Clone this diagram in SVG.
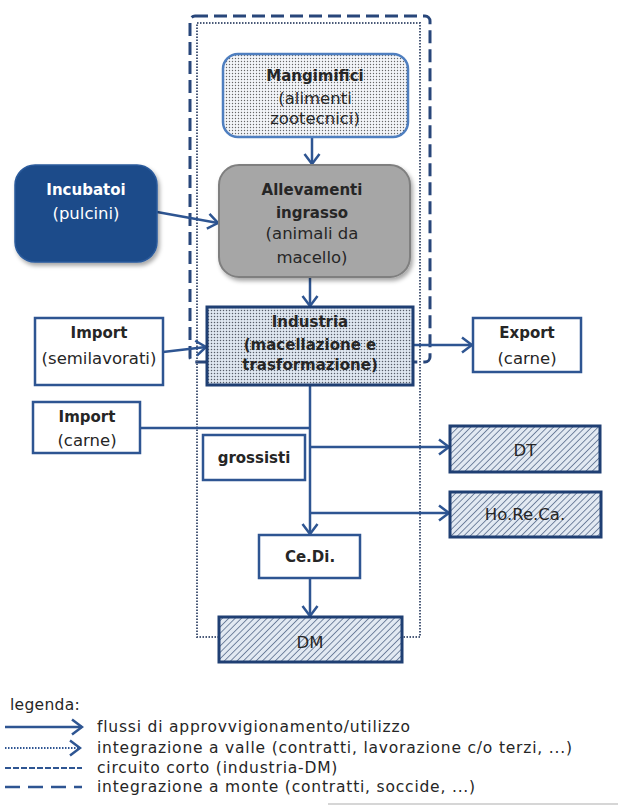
<svg xmlns="http://www.w3.org/2000/svg" width="618" height="808" viewBox="0 0 618 808">
<style>
text{font-family:"DejaVu Sans","Liberation Sans",sans-serif;fill:#262626;text-anchor:middle}
.b{font-weight:bold;font-size:15px}
.r{font-size:16.5px}
.leg{font-size:15.5px;letter-spacing:0.8px;text-anchor:start}
.w{fill:#ffffff}
.conn{stroke:#2e5592;stroke-width:2.5;fill:none}
.box{fill:#ffffff;stroke:#2e5592;stroke-width:2.5}
.thick{stroke:#1f3f73;stroke-width:3}
</style>
<defs>
<pattern id="dots" width="3" height="3" patternUnits="userSpaceOnUse">
<rect width="3" height="3" fill="#f3f5f9"/>
<circle cx="1.5" cy="1.5" r="0.7" fill="#666666"/>
</pattern>
<pattern id="dots2" width="3" height="3" patternUnits="userSpaceOnUse">
<rect width="3" height="3" fill="#dfe7f1"/>
<circle cx="1.5" cy="1.5" r="0.75" fill="#575d69"/>
</pattern>
<pattern id="hatch" width="4.5" height="4.5" patternUnits="userSpaceOnUse" patternTransform="rotate(45)">
<rect width="4.5" height="4.5" fill="#e2e9f2"/>
<line x1="0" y1="0" x2="0" y2="4.5" stroke="#6a7c99" stroke-width="1.8"/>
</pattern>
<marker id="arr" markerWidth="14" markerHeight="18" refX="12" refY="9" orient="auto" markerUnits="userSpaceOnUse">
<path d="M2,1.5 L12,9 L2,16.5" fill="none" stroke="#2e5592" stroke-width="2.5"/>
</marker>
<filter id="sh" x="-10%" y="-10%" width="130%" height="130%">
<feDropShadow dx="2" dy="3" stdDeviation="2" flood-color="#000" flood-opacity="0.35"/>
</filter>
</defs>
<rect width="618" height="808" fill="#ffffff"/>

<g id="containers">
<rect x="190" y="16" width="240" height="346" rx="5" fill="none" stroke="#28467a" stroke-width="3" stroke-dasharray="13 6"/>
<rect x="197" y="23" width="223" height="614" fill="none" stroke="#4a5a78" stroke-width="2" stroke-dasharray="1.5 1.5"/>
</g>

<g id="connectors">
<line class="conn" x1="312" y1="137" x2="312" y2="164" marker-end="url(#arr)"/>
<line class="conn" x1="157" y1="212" x2="218" y2="223" marker-end="url(#arr)"/>
<line class="conn" x1="310" y1="277" x2="310" y2="306" marker-end="url(#arr)"/>
<line class="conn" x1="163" y1="352" x2="206" y2="347" marker-end="url(#arr)"/>
<line class="conn" x1="413" y1="345" x2="472" y2="345" marker-end="url(#arr)"/>
<line class="conn" x1="310" y1="385" x2="310" y2="534" marker-end="url(#arr)"/>
<line class="conn" x1="140" y1="428" x2="310" y2="428"/>
<line class="conn" x1="310" y1="447" x2="449" y2="447" marker-end="url(#arr)"/>
<line class="conn" x1="310" y1="513" x2="449" y2="513" marker-end="url(#arr)"/>
<line class="conn" x1="310" y1="578" x2="310" y2="616" marker-end="url(#arr)"/>
</g>

<g id="mangimifici">
<rect x="223" y="54" width="185" height="83" rx="15" fill="url(#dots)" stroke="#4f7fc0" stroke-width="2.5"/>
<text class="b" x="315" y="81">Mangimifici</text>
<text class="r" x="315" y="104">(alimenti</text>
<text class="r" x="315" y="124">zootecnici)</text>
</g>

<g id="incubatoi">
<rect x="15" y="165" width="142" height="97" rx="20" fill="#1e4c8a" stroke="#2a5a9c" stroke-width="1.5" filter="url(#sh)"/>
<text class="b w" x="86" y="195">Incubatoi</text>
<text class="r w" x="86" y="219">(pulcini)</text>
</g>

<g id="allevamenti">
<rect x="219" y="165" width="191" height="112" rx="20" fill="#a6a6a6" stroke="#7f7f7f" stroke-width="2" filter="url(#sh)"/>
<text class="b" x="312" y="195">Allevamenti</text>
<text class="b" x="312" y="218">ingrasso</text>
<text class="r" x="312" y="239">(animali da</text>
<text class="r" x="312" y="263">macello)</text>
</g>

<g id="import-semilavorati">
<rect class="box" x="35" y="318" width="128" height="67"/>
<text class="b" x="99" y="338">Import</text>
<text class="r" x="99" y="364">(semilavorati)</text>
</g>

<g id="industria">
<rect x="207" y="307" width="206" height="78" fill="url(#dots2)" class="thick"/>
<text class="b" x="310" y="327">Industria</text>
<text class="b" x="310" y="350">(macellazione e</text>
<text class="b" x="310" y="370">trasformazione)</text>
</g>

<g id="export">
<rect class="box" x="473" y="318" width="108" height="54"/>
<text class="b" x="527" y="338">Export</text>
<text class="r" x="527" y="364">(carne)</text>
</g>

<g id="import-carne">
<rect class="box" x="33" y="402" width="107" height="51"/>
<text class="b" x="87" y="422">Import</text>
<text class="r" x="87" y="446">(carne)</text>
</g>

<g id="grossisti">
<rect class="box" x="203" y="435" width="102" height="45" stroke-width="2"/>
<text class="b" x="254" y="463">grossisti</text>
</g>

<g id="dt">
<rect x="450" y="426" width="150" height="46" fill="url(#hatch)" class="thick"/>
<text class="r" x="525" y="456">DT</text>
</g>

<g id="horeca">
<rect x="450" y="492" width="151" height="45" fill="url(#hatch)" class="thick"/>
<text class="r" x="525" y="520">Ho.Re.Ca.</text>
</g>

<g id="cedi">
<rect class="box" x="259" y="535" width="101" height="43" stroke-width="2"/>
<text class="b" x="310" y="562">Ce.Di.</text>
</g>

<g id="dm">
<rect x="219" y="617" width="183" height="45" fill="url(#hatch)" class="thick"/>
<text class="r" x="310" y="648">DM</text>
</g>

<g id="legenda">
<text class="leg" x="10" y="710" style="letter-spacing:0.3px">legenda:</text>
<line class="conn" x1="5" y1="727" x2="82" y2="727" marker-end="url(#arr)"/>
<line x1="5" y1="748" x2="80" y2="748" stroke="#2e5592" stroke-width="2" stroke-dasharray="1.5 1.5" marker-end="url(#arr)"/>
<line x1="5" y1="768" x2="82" y2="768" stroke="#2e5592" stroke-width="2" stroke-dasharray="6 2"/>
<line x1="5" y1="787" x2="82" y2="787" stroke="#2e5592" stroke-width="2.5" stroke-dasharray="15 8"/>
<text class="leg" x="97" y="732">flussi di approvvigionamento/utilizzo</text>
<text class="leg" x="97" y="753">integrazione a valle (contratti, lavorazione c/o terzi, ...)</text>
<text class="leg" x="97" y="773">circuito corto (industria-DM)</text>
<text class="leg" x="97" y="792">integrazione a monte (contratti, soccide, ...)</text>
<line x1="328" y1="804" x2="618" y2="804" stroke="#c8c8c8" stroke-width="1.5"/>
</g>
</svg>
